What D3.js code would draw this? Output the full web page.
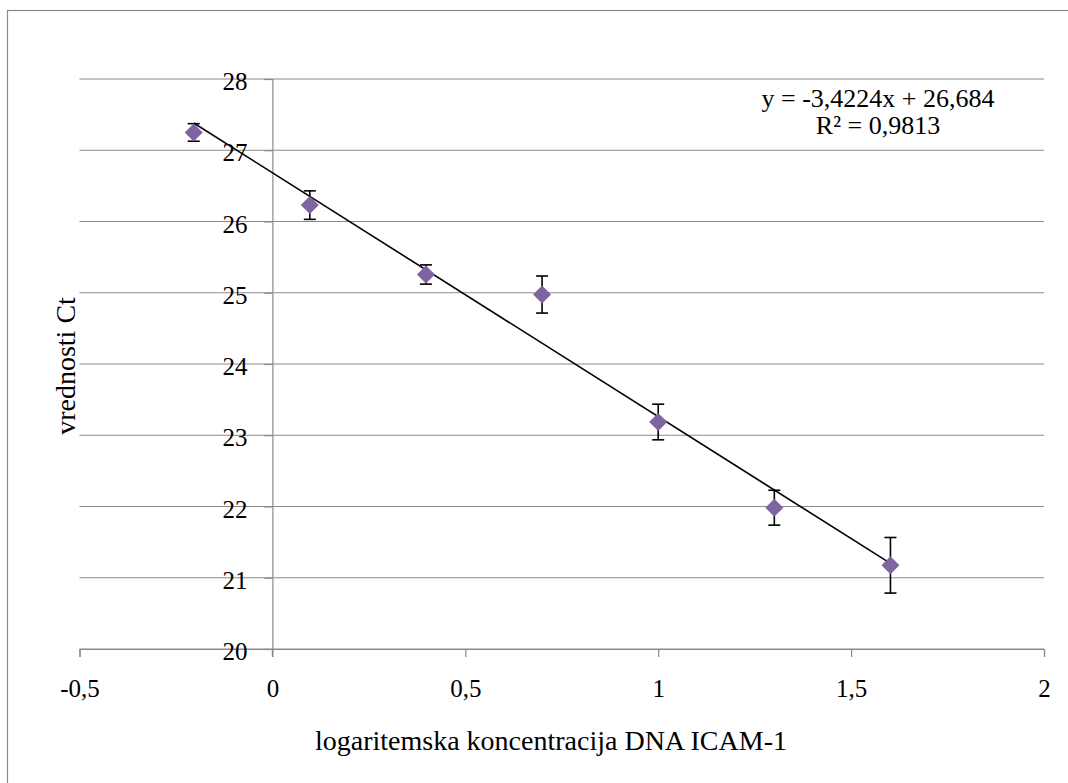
<!DOCTYPE html>
<html>
<head>
<meta charset="utf-8">
<script src="https://cdn.jsdelivr.net/npm/d3@7"></script>
<style>
  html, body { margin: 0; padding: 0; background: #fff; }
  svg { display: block; }
  svg text { font-family: "Liberation Serif", "Times New Roman", serif !important; fill: #000; }
</style>
</head>
<body>
<svg id="chart" width="1068" height="783"></svg>
<script>
// Data: log10 of DNA concentration vs Ct values with error bars
const xValues = [-0.204, 0.097, 0.398, 0.699, 1.0, 1.301, 1.602];
const ctValues = [27.25, 26.23, 25.256, 24.975, 23.186, 21.983, 21.175];
const ctErrors = [0.123, 0.20, 0.135, 0.26, 0.25, 0.245, 0.39];
const xTicks = [-0.5, 0, 0.5, 1, 1.5, 2];
const yTicks = [20, 21, 22, 23, 24, 25, 26, 27, 28];
const trendSlope = -3.4224;
const trendIntercept = 26.684;
const equationLines = ["y = -3,4224x + 26,684", "R\u00B2 = 0,9813"];
const xTitle = "logaritemska koncentracija DNA ICAM-1";
const yTitle = "vrednosti Ct";

const svg = d3.select("#chart");
const W = 1068, H = 783;
const gridColor = "#8a8a8a";
const markerColor = "#8064A2";
const serif = '"Liberation Serif", "Times New Roman", serif';

// chart outer border (only top/left visible)
svg.append("rect")
  .attr("x", 7.5).attr("y", 10.5)
  .attr("width", W + 20).attr("height", H + 20)
  .attr("fill", "#fff").attr("stroke", gridColor).attr("stroke-width", 1.2);

const x = d3.scaleLinear().domain([-0.5, 2]).range([79.5, 1044]);
const y = d3.scaleLinear().domain([20, 28]).range([649, 79]);
const fmt = d => String(d).replace(".", ",");

// horizontal gridlines
svg.append("g").selectAll("line").data(yTicks).join("line")
  .attr("x1", x(-0.5)).attr("x2", x(2))
  .attr("y1", d => y(d)).attr("y2", d => y(d))
  .attr("stroke", gridColor).attr("stroke-width", 1.2);

// x axis (at y = 20)
const xAxis = d3.axisBottom(x).tickValues(xTicks).tickSize(8).tickPadding(22).tickFormat(fmt);
const gx = svg.append("g").attr("transform", `translate(0,${y(20)})`).call(xAxis)
  .attr("font-family", serif).attr("font-size", 25);
gx.select(".domain").attr("stroke", gridColor).attr("stroke-width", 1.2);
gx.selectAll(".tick line").attr("stroke", gridColor).attr("stroke-width", 1.2);
gx.selectAll(".tick text").style("font-family", serif).style("font-size", "25px");

// y axis (at x = 0)
const yAxis = d3.axisLeft(y).tickValues(yTicks).tickSize(8).tickPadding(17).tickFormat(fmt);
const gy = svg.append("g").attr("transform", `translate(${x(0)},0)`).call(yAxis)
  .attr("font-family", serif).attr("font-size", 25);
gy.select(".domain").attr("stroke", gridColor).attr("stroke-width", 1.2);
gy.selectAll(".tick line").attr("stroke", gridColor).attr("stroke-width", 1.2);
gy.selectAll(".tick text").style("font-family", serif).style("font-size", "25px").attr("dy", "0.42em");
// extend y axis line down to tick length
svg.append("line").attr("x1", x(0)).attr("x2", x(0)).attr("y1", y(20)).attr("y2", y(20) + 8)
  .attr("stroke", gridColor).attr("stroke-width", 1.2);

// data
const pts = xValues.map((v, i) => ({ x: v, y: ctValues[i], e: ctErrors[i] }));

// trendline
const xMin = d3.min(xValues), xMax = d3.max(xValues);
svg.append("line")
  .attr("x1", x(xMin)).attr("y1", y(trendSlope * xMin + trendIntercept))
  .attr("x2", x(xMax)).attr("y2", y(trendSlope * xMax + trendIntercept))
  .attr("stroke", "#000").attr("stroke-width", 1.6);

// error bars
const eb = svg.append("g").attr("stroke", "#000").attr("stroke-width", 1.6);
eb.selectAll(".v").data(pts).join("line").attr("class", "v")
  .attr("x1", d => x(d.x)).attr("x2", d => x(d.x))
  .attr("y1", d => y(d.y + d.e)).attr("y2", d => y(d.y - d.e));
eb.selectAll(".t").data(pts).join("line").attr("class", "t")
  .attr("x1", d => x(d.x) - 6).attr("x2", d => x(d.x) + 6)
  .attr("y1", d => y(d.y + d.e)).attr("y2", d => y(d.y + d.e));
eb.selectAll(".b").data(pts).join("line").attr("class", "b")
  .attr("x1", d => x(d.x) - 6).attr("x2", d => x(d.x) + 6)
  .attr("y1", d => y(d.y - d.e)).attr("y2", d => y(d.y - d.e));

// markers (diamonds)
svg.append("g").selectAll("path").data(pts).join("path")
  .attr("transform", d => `translate(${x(d.x)},${y(d.y)})`)
  .attr("d", "M0,-9L9,0L0,9L-9,0Z")
  .attr("fill", markerColor);

// equation
const eq = svg.append("text").attr("text-anchor", "middle").style("font-size", "26px");
eq.selectAll("tspan").data(equationLines).join("tspan")
  .attr("x", 878).attr("y", (d, i) => 107 + i * 27).text(d => d);

// axis titles
svg.append("text").attr("x", 551).attr("y", 750).attr("text-anchor", "middle")
  .style("font-size", "28px").text(xTitle);
svg.append("text").attr("transform", "translate(75,366) rotate(-90)")
  .attr("text-anchor", "middle").style("font-size", "28px").text(yTitle);
</script>
</body>
</html>
